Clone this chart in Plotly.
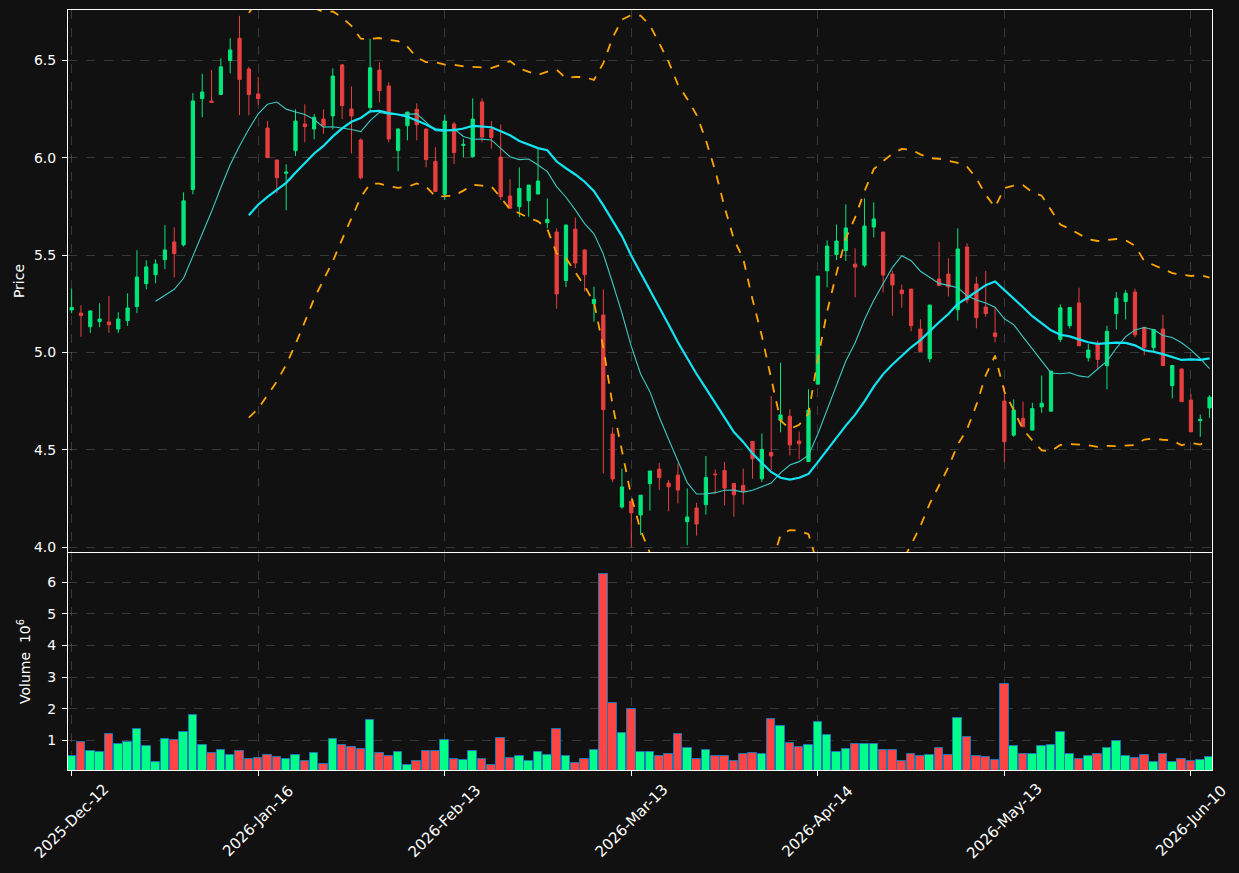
import plotly.graph_objects as go
import pandas as pd

# ---- data ----
tick_labels = ["2025-Dec-12", "2026-Jan-16", "2026-Feb-13", "2026-Mar-13",
               "2026-Apr-14", "2026-May-13", "2026-Jun-10"]
tick_index = [0, 20, 40, 60, 80, 100, 120]

opens = [5.218, 5.202, 5.132, 5.158, 5.156, 5.120, 5.163, 5.235, 5.353, 5.399,
         5.476, 5.567, 5.552, 5.836, 6.303, 6.291, 6.324, 6.498, 6.613, 6.455,
         6.327, 6.152, 5.988, 5.920, 6.036, 6.173, 6.147, 6.198, 6.214, 6.476,
         6.250, 6.091, 6.257, 6.450, 6.368, 6.036, 6.164, 6.248, 6.147, 5.981,
         5.812, 6.173, 6.063, 6.005, 6.286, 6.147, 6.003, 5.803, 5.748, 5.779,
         5.813, 5.666, 5.618, 5.369, 5.633, 5.526, 5.250, 5.192, 4.581, 4.206,
         4.236, 4.165, 4.326, 4.401, 4.329, 4.370, 4.131, 4.201, 4.218, 4.375,
         4.394, 4.327, 4.317, 4.543, 4.351, 4.486, 4.651, 4.672, 4.545, 4.439,
         4.837, 5.419, 5.502, 5.523, 5.453, 5.448, 5.644, 5.618, 5.402, 5.320,
         5.325, 5.120, 4.968, 5.377, 5.402, 5.219, 5.541, 5.351, 5.233, 5.100,
         4.750, 4.575, 4.661, 4.601, 4.720, 4.698, 5.067, 5.137, 5.254, 4.972,
         5.046, 4.932, 5.199, 5.261, 5.310, 5.129, 5.024, 5.120, 4.829, 4.915,
         4.755, 4.649, 4.715]
highs = [5.327, 5.242, 5.215, 5.252, 5.290, 5.206, 5.303, 5.524, 5.473, 5.478,
         5.653, 5.642, 5.822, 6.331, 6.430, 6.449, 6.510, 6.613, 6.728, 6.467,
         6.414, 6.187, 5.988, 5.966, 6.248, 6.274, 6.224, 6.248, 6.459, 6.480,
         6.366, 6.099, 6.610, 6.490, 6.387, 6.150, 6.234, 6.279, 6.147, 6.053,
         6.221, 6.183, 6.097, 6.304, 6.304, 6.188, 6.171, 5.889, 5.950, 5.859,
         6.048, 5.791, 5.637, 5.654, 5.692, 5.529, 5.337, 5.323, 4.615, 4.403,
         4.236, 4.267, 4.391, 4.432, 4.345, 4.430, 4.302, 4.228, 4.468, 4.399,
         4.437, 4.327, 4.404, 4.543, 4.584, 4.776, 4.947, 4.708, 4.594, 4.811,
         5.392, 5.575, 5.657, 5.760, 5.534, 5.791, 5.770, 5.618, 5.419, 5.349,
         5.325, 5.170, 5.243, 5.567, 5.483, 5.637, 5.560, 5.389, 5.418, 5.229,
         4.824, 4.759, 4.747, 4.741, 4.881, 4.904, 5.247, 5.231, 5.332, 5.043,
         5.060, 5.137, 5.310, 5.319, 5.327, 5.129, 5.118, 5.193, 4.933, 4.915,
         4.786, 4.681, 4.780]
lows = [5.201, 5.080, 5.100, 5.129, 5.100, 5.100, 5.136, 5.201, 5.324, 5.355,
        5.427, 5.385, 5.543, 5.812, 6.207, 6.283, 6.324, 6.433, 6.218, 6.218,
        6.271, 6.000, 5.817, 5.730, 6.009, 6.079, 6.094, 6.122, 6.145, 6.197,
        6.022, 5.887, 6.231, 6.284, 6.079, 5.930, 6.089, 6.089, 5.950, 5.826,
        5.783, 5.967, 6.000, 6.000, 6.079, 6.046, 5.783, 5.740, 5.694, 5.697,
        5.813, 5.637, 5.224, 5.335, 5.432, 5.312, 5.158, 4.379, 4.333, 4.197,
        3.998, 4.062, 4.187, 4.293, 4.184, 4.225, 4.010, 4.059, 4.167, 4.273,
        4.214, 4.156, 4.219, 4.351, 4.334, 4.396, 4.590, 4.471, 4.451, 4.439,
        4.837, 5.334, 5.474, 5.470, 5.283, 5.437, 5.590, 5.308, 5.188, 5.229,
        5.108, 5.004, 4.949, 5.343, 5.287, 5.164, 5.252, 5.124, 5.184, 5.052,
        4.435, 4.567, 4.618, 4.601, 4.690, 4.698, 5.053, 5.123, 5.034, 4.954,
        4.919, 4.810, 5.118, 5.169, 5.078, 4.985, 5.002, 4.932, 4.764, 4.747,
        4.593, 4.567, 4.664]
closes = [5.231, 5.189, 5.213, 5.171, 5.142, 5.171, 5.228, 5.387, 5.439, 5.454,
          5.526, 5.507, 5.778, 6.291, 6.337, 6.283, 6.466, 6.553, 6.401, 6.324,
          6.303, 6.000, 5.897, 5.926, 6.188, 6.159, 6.207, 6.164, 6.419, 6.267,
          6.214, 5.897, 6.461, 6.344, 6.096, 6.147, 6.234, 6.169, 5.990, 5.826,
          6.188, 6.026, 6.068, 6.198, 6.106, 6.103, 5.800, 5.740, 5.842, 5.859,
          5.880, 5.683, 5.300, 5.654, 5.459, 5.399, 5.272, 4.706, 4.350, 4.309,
          4.176, 4.267, 4.391, 4.357, 4.310, 4.293, 4.155, 4.119, 4.358, 4.372,
          4.303, 4.269, 4.288, 4.454, 4.502, 4.468, 4.679, 4.525, 4.531, 4.704,
          5.392, 5.546, 5.572, 5.639, 5.438, 5.649, 5.685, 5.397, 5.346, 5.301,
          5.137, 5.004, 5.243, 5.343, 5.336, 5.531, 5.269, 5.178, 5.199, 5.081,
          4.541, 4.704, 4.618, 4.712, 4.739, 4.904, 5.229, 5.231, 5.034, 5.012,
          4.964, 5.108, 5.278, 5.304, 5.090, 5.024, 5.118, 4.932, 4.933, 4.747,
          4.593, 4.656, 4.770]
volumes = [0.51, 0.96, 0.67, 0.64, 1.21, 0.89, 0.96, 1.37, 0.83, 0.32,
           1.05, 1.00, 1.27, 1.81, 0.86, 0.61, 0.70, 0.55, 0.67, 0.42,
           0.45, 0.55, 0.48, 0.42, 0.55, 0.35, 0.61, 0.26, 1.05, 0.86,
           0.80, 0.73, 1.65, 0.61, 0.51, 0.64, 0.23, 0.35, 0.67, 0.67,
           1.02, 0.42, 0.39, 0.67, 0.42, 0.23, 1.08, 0.45, 0.51, 0.35,
           0.64, 0.55, 1.37, 0.51, 0.29, 0.42, 0.70, 6.27, 2.19, 1.24,
           2.00, 0.64, 0.64, 0.51, 0.58, 1.21, 0.77, 0.42, 0.70, 0.51,
           0.51, 0.35, 0.58, 0.61, 0.58, 1.68, 1.46, 0.92, 0.80, 0.86,
           1.59, 1.18, 0.64, 0.73, 0.89, 0.89, 0.89, 0.70, 0.70, 0.35,
           0.58, 0.51, 0.55, 0.77, 0.55, 1.72, 1.11, 0.51, 0.48, 0.39,
           2.79, 0.83, 0.58, 0.58, 0.83, 0.86, 1.27, 0.58, 0.42, 0.51,
           0.58, 0.77, 0.99, 0.51, 0.45, 0.55, 0.32, 0.58, 0.32, 0.42,
           0.35, 0.39, 0.48]

# ---- derived indicators ----
idx = list(range(len(closes)))
cs = pd.Series(closes)
ma10 = cs.rolling(10).mean()
ma20 = cs.rolling(20).mean()
sd20 = cs.rolling(20).std(ddof=0)
bb_up = ma20 + 2 * sd20
bb_lo = ma20 - 2 * sd20

BG = "#111111"
UP_C, DN_C = "#02e77c", "#e73f3f"
UP_V, DN_V = "#00ff88", "#ff4444"
vol_colors = [UP_V if c >= o else DN_V for o, c in zip(opens, closes)]

fig = go.Figure()
fig.add_trace(go.Candlestick(
    x=idx, open=opens, high=highs, low=lows, close=closes,
    increasing=dict(line=dict(color=UP_C, width=1), fillcolor=UP_C),
    decreasing=dict(line=dict(color=DN_C, width=1), fillcolor=DN_C),
    whiskerwidth=0, showlegend=False, xaxis="x", yaxis="y"))
fig.add_trace(go.Scatter(x=idx, y=ma10, mode="lines",
                         line=dict(color="#3cc9c0", width=1.1),
                         showlegend=False, xaxis="x", yaxis="y"))
fig.add_trace(go.Scatter(x=idx, y=ma20, mode="lines",
                         line=dict(color="#12e4f4", width=2.2),
                         showlegend=False, xaxis="x", yaxis="y"))
for band in (bb_up, bb_lo):
    fig.add_trace(go.Scatter(x=idx, y=band, mode="lines",
                             line=dict(color="#ffa500", width=1.8, dash="dash"),
                             showlegend=False, xaxis="x", yaxis="y"))
fig.add_trace(go.Bar(x=idx, y=volumes, width=0.92,
                     marker=dict(color=vol_colors,
                                 line=dict(color="#1f77b4", width=1)),
                     showlegend=False, xaxis="x2", yaxis="y2"))

FONT = "DejaVu Sans"
grid = dict(showgrid=True, gridcolor="rgba(128,128,128,0.35)", griddash="dash",
            gridwidth=1)
axline = dict(showline=True, linecolor="white", linewidth=1, mirror=True)
xr = [-0.39, 122.26]

# rotated date labels centred under their ticks
annotations = [dict(x=xi, y=-0.0671, xref="x2", yref="paper", text=lab,
                    showarrow=False, textangle=-45, xanchor="center",
                    yanchor="middle", font=dict(size=15, color="white",
                                                family=FONT))
               for xi, lab in zip(tick_index, tick_labels)]

fig.update_layout(
    width=1239, height=873,
    paper_bgcolor=BG, plot_bgcolor=BG,
    margin=dict(l=68, r=27, t=10, b=103),
    font=dict(family=FONT, color="white", size=14),
    boxgap=0.5,
    bargap=0,
    annotations=annotations,
    xaxis=dict(domain=[0, 1], anchor="y", range=xr, tickvals=tick_index,
               showticklabels=False, ticks="", automargin=False,
               rangeslider=dict(visible=False), zeroline=False,
               **grid, **axline),
    yaxis=dict(domain=[0.2868, 1], anchor="x", range=[3.975, 6.758],
               tickvals=[4.0, 4.5, 5.0, 5.5, 6.0, 6.5],
               ticktext=["4.0", "4.5", "5.0", "5.5", "6.0", "6.5"],
               ticks="outside", ticklen=5, tickcolor="white",
               ticklabelstandoff=3, automargin=False,
               title=dict(text="Price", standoff=6, font=dict(size=14)),
               zeroline=False, **grid, **axline),
    xaxis2=dict(domain=[0, 1], anchor="y2", range=xr, matches="x",
                tickvals=tick_index, showticklabels=False,
                ticks="outside", ticklen=5, tickcolor="white",
                automargin=False, zeroline=False, **grid, **axline),
    yaxis2=dict(domain=[0, 0.2855], anchor="x2", range=[0.06, 6.927],
                tickvals=[1, 2, 3, 4, 5, 6],
                ticks="outside", ticklen=5, tickcolor="white",
                ticklabelstandoff=3, automargin=False,
                title=dict(text="Volume  10<sup>6</sup>", standoff=13,
                           font=dict(size=14)),
                zeroline=False, **grid, **axline),
)

fig.write_html("out.html")
